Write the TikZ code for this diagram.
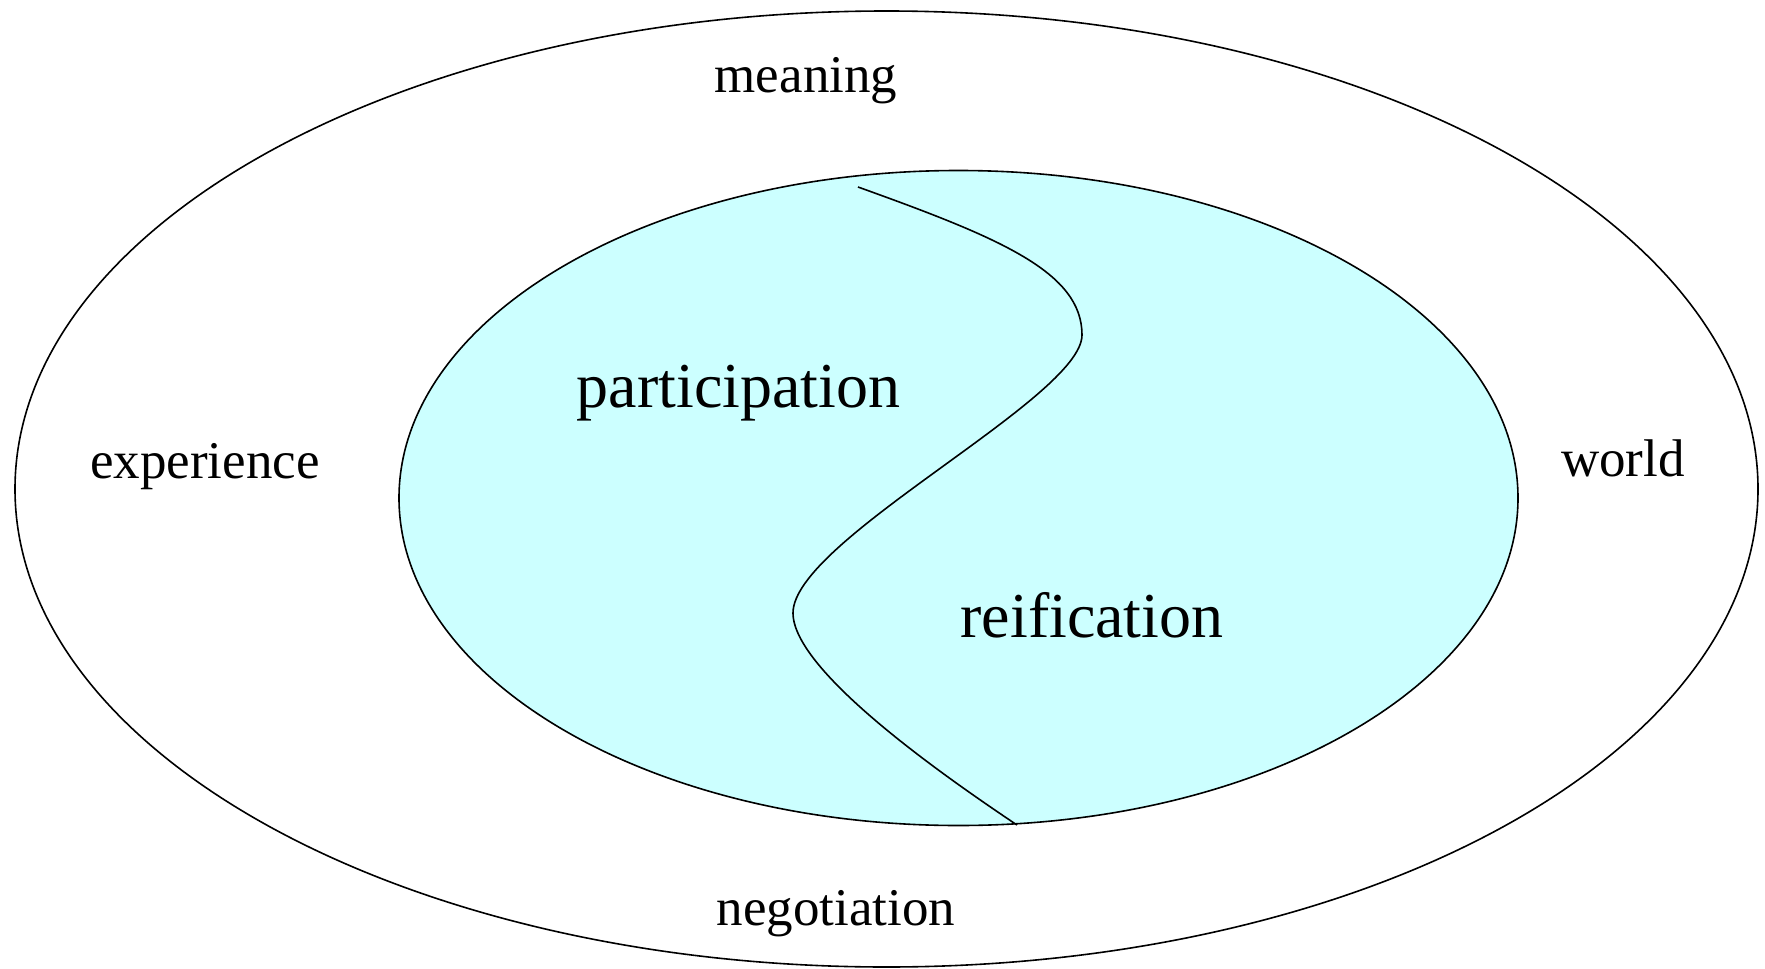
\documentclass[tikz,border=0pt]{standalone}
\usepackage{fontspec}
\setmainfont{Liberation Serif}
\begin{document}
\begin{tikzpicture}[x=1pt,y=-1pt,
  outerlabel/.style={inner sep=0pt,anchor=base,font=\fontsize{53}{60}\selectfont},
  innerlabel/.style={inner sep=0pt,anchor=base,font=\fontsize{64}{72}\selectfont},
  ring/.style={draw=black,line width=1.6pt}]
\useasboundingbox (0,0) rectangle (1765,969);
\fill[white] (0,0) rectangle (1765,969);
\draw[ring] (886.5,489) ellipse [x radius=871.5, y radius=478];
\draw[ring,fill={rgb,255:red,204;green,255;blue,255}] (958.5,498) ellipse [x radius=559.5, y radius=327.5];
\coordinate (ctop) at (858,187);
\coordinate (cright) at (1082,335);
\coordinate (cleft) at (793,613);
\coordinate (cbot) at (1017,825);
\draw[line width=1.6pt] (ctop) .. controls (1000,238) and (1082,272) .. (cright)
  .. controls (1082,398) and (793,540) .. (cleft)
  .. controls (793,672) and (950,780) .. (cbot);
\node[outerlabel] (meaning) at (806,92.5) {meaning};
\node[outerlabel] (experience) at (205,478) {experience};
\node[outerlabel] (world) at (1623,476) {world};
\node[outerlabel] (negotiation) at (836,925) {negotiation};
\node[innerlabel] (participation) at (738.5,407) {participation};
\node[innerlabel] (reification) at (1092,637) {reification};
\end{tikzpicture}
\end{document}
